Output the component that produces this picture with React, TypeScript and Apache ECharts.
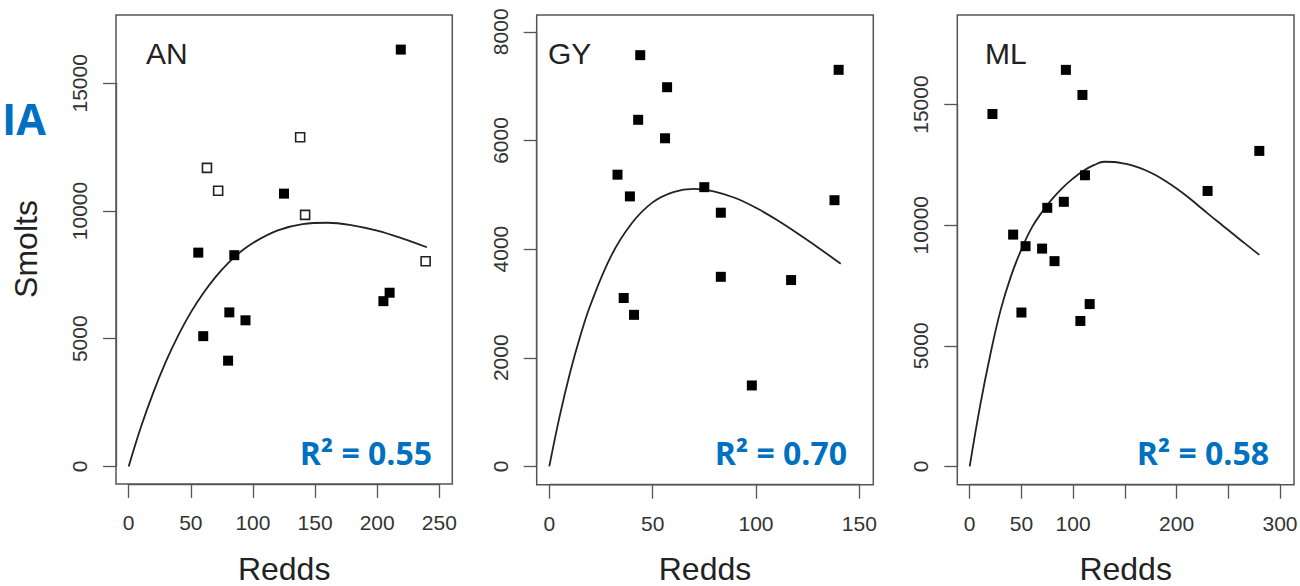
import React, { useEffect, useRef } from 'react';
import * as echarts from 'echarts';

// ---------- data ----------
// AN panel
const AN_FILLED: number[][] = [
  [219, 16320], [125, 10680], [56, 8370], [85, 8270], [210, 6800],
  [205, 6470], [81, 6030], [94, 5720], [60, 5100], [80, 4140],
];
const AN_OPEN: number[][] = [
  [138, 12890], [63, 11690], [72, 10790], [142, 9850], [239, 8030],
];
const AN_CURVE_X = [0, 10, 20, 30, 40, 50, 60, 70, 80, 90, 100, 120, 140, 160, 180, 200, 220, 240];
const AN_CURVE_Y = [0, 1560, 2920, 4110, 5140, 6030, 6780, 7420, 7960, 8400, 8750, 9240, 9490, 9540, 9440, 9230, 8930, 8580];

// GY panel
const GY_POINTS: number[][] = [
  [44, 7570], [140, 7300], [57, 6980], [43, 6380], [56, 6040], [33, 5370],
  [39, 4970], [75, 5140], [83, 4670], [138, 4900], [83, 3490], [117, 3430],
  [36, 3100], [41, 2790], [98, 1490],
];
const GY_CURVE_X = [0, 5, 10, 15, 20, 30, 40, 50, 60, 70, 80, 90, 100, 110, 120, 130, 141];
const GY_CURVE_Y = [0, 920, 1720, 2400, 2980, 3880, 4480, 4860, 5050, 5110, 5060, 4940, 4760, 4540, 4290, 4030, 3730];

// ML panel
const ML_POINTS: number[][] = [
  [93, 16440], [109, 15400], [22, 14610], [280, 13080], [111.5, 12070],
  [230, 11420], [91, 10970], [75, 10720], [42, 9610], [54, 9130],
  [70, 9030], [82, 8510], [116, 6730], [50, 6380], [107, 6030],
];
const ML_CURVE_X = [0, 10, 20, 30, 40, 50, 60, 70, 80, 90, 100, 110, 120, 130, 140, 150, 160, 170, 180, 190, 200, 210, 220, 230, 240, 250, 260, 270, 280];
const ML_CURVE_Y = [0, 2500, 4650, 6500, 7900, 9000, 9900, 10550, 11100, 11560, 11940, 12260, 12490, 12630, 12620, 12550, 12440, 12280, 12070, 11810, 11520, 11200, 10850, 10490, 10140, 9800, 9450, 9110, 8770];

// ticks
const AN_X_TICKS = [0, 50, 100, 150, 200, 250];
const AN_Y_TICKS = [0, 5000, 10000, 15000];
const GY_X_TICKS = [0, 50, 100, 150];
const GY_Y_TICKS = [0, 2000, 4000, 6000, 8000];
const ML_X_TICKS = [0, 50, 100, 150, 200, 250, 300];
const ML_X_LABELS = ['0', '50', '100', '', '200', '', '300'];
const ML_Y_TICKS = [0, 5000, 10000, 15000];

const PANEL_NAMES = ['AN', 'GY', 'ML'];
const R2_LABELS = ['R² = 0.55', 'R² = 0.70', 'R² = 0.58'];

const zip = (xs: number[], ys: number[]) => xs.map((x, i) => [x, ys[i]]);

const FONT = '"Liberation Sans", Arial, Helvetica, sans-serif';
const AXIS_COLOR = '#555';

// layout (pixels)
const GRIDS = [
  { left: 128.7, top: 83.3, width: 310.6, height: 383.1 },
  { left: 549.3, top: 31.8, width: 310, height: 434.6 },
  { left: 969.7, top: 104.6, width: 310.3, height: 361.8 },
];
const BOXES = [
  { x: 116, y: 15, width: 336.3, height: 469 },
  { x: 536.7, y: 15, width: 336.6, height: 469.7 },
  { x: 957.3, y: 15, width: 336.7, height: 469.7 },
];

function makeX(gridIndex: number, ticks: number[], offset: number, labels?: string[]) {
  return {
    type: 'value',
    gridIndex,
    min: ticks[0],
    max: ticks[ticks.length - 1],
    interval: ticks[1] - ticks[0],
    position: 'bottom',
    offset,
    axisLine: { show: true, onZero: false, lineStyle: { color: AXIS_COLOR, width: 1.3 } },
    axisTick: { show: true, length: 14, lineStyle: { color: AXIS_COLOR, width: 1.3 } },
    axisLabel: {
      color: '#333',
      fontSize: 21,
      fontFamily: FONT,
      margin: 28,
      formatter: (v: number) => {
        if (labels) {
          const i = ticks.indexOf(v);
          return i >= 0 ? labels[i] : '';
        }
        return String(v);
      },
    },
    splitLine: { show: false },
  };
}

function makeY(gridIndex: number, ticks: number[], offset: number) {
  return {
    type: 'value',
    gridIndex,
    min: ticks[0],
    max: ticks[ticks.length - 1],
    interval: ticks[1] - ticks[0],
    position: 'left',
    offset,
    axisLine: { show: true, onZero: false, lineStyle: { color: AXIS_COLOR, width: 1.3 } },
    axisTick: { show: true, length: 13, lineStyle: { color: AXIS_COLOR, width: 1.3 } },
    axisLabel: {
      color: '#333',
      fontSize: 21,
      fontFamily: FONT,
      rotate: 90,
      margin: 26,
      formatter: (v: number) => String(v),
    },
    splitLine: { show: false },
  };
}

function curve(idx: number, data: number[][]) {
  return {
    type: 'line',
    xAxisIndex: idx,
    yAxisIndex: idx,
    data,
    smooth: 0.4,
    symbol: 'none',
    clip: false,
    lineStyle: { color: '#222', width: 1.8 },
    z: 1,
  };
}

function filled(idx: number, data: number[][]) {
  return {
    type: 'scatter',
    xAxisIndex: idx,
    yAxisIndex: idx,
    data,
    symbol: 'rect',
    symbolSize: 10,
    clip: false,
    itemStyle: { color: '#000', opacity: 1 },
    z: 3,
  };
}

function txt(x: number, y: number, text: string, font: string, fill: string, align: string, rotation = 0) {
  return {
    type: 'text',
    x,
    y,
    rotation,
    silent: true,
    z: 10,
    style: {
      text,
      font,
      fill,
      align,
      textAlign: align,
      verticalAlign: 'middle',
      textVerticalAlign: 'middle',
    },
  };
}

export default function App() {
  const ref = useRef<HTMLDivElement>(null);

  useEffect(() => {
    document.body.style.margin = '0';
    if (!ref.current) return;
    const chart = echarts.init(ref.current, undefined, { renderer: 'svg' });

    const graphic: any[] = [];
    BOXES.forEach((b) => {
      graphic.push({
        type: 'rect',
        silent: true,
        z: 5,
        shape: { x: b.x, y: b.y, width: b.width, height: b.height },
        style: { fill: 'none', stroke: AXIS_COLOR, lineWidth: 1.5 },
      });
    });
    const nameX = [146, 548, 985];
    PANEL_NAMES.forEach((n, i) => {
      graphic.push(txt(nameX[i], 53, n, `30px ${FONT}`, '#222', 'left'));
    });
    const r2X = [432, 847, 1269];
    R2_LABELS.forEach((t, i) => {
      graphic.push(txt(r2X[i], 452, t, `bold 32px "Open Sans", "Noto Sans", sans-serif`, '#0070C0', 'right'));
    });
    BOXES.forEach((b) => {
      graphic.push(txt(b.x + b.width / 2, 569, 'Redds', `32px ${FONT}`, '#222', 'center'));
    });
    graphic.push(txt(25.5, 249, 'Smolts', `32px ${FONT}`, '#222', 'center', Math.PI / 2));
    graphic.push(txt(2, 118, 'IA', `bold 43px "Open Sans", "Noto Sans", sans-serif`, '#0070C0', 'left'));

    chart.setOption({
      animation: false,
      backgroundColor: '#fff',
      grid: GRIDS.map((g) => ({ ...g, containLabel: false, outerBoundsMode: 'none' })),
      xAxis: [
        makeX(0, AN_X_TICKS, 17.5),
        makeX(1, GY_X_TICKS, 18.3),
        makeX(2, ML_X_TICKS, 18.3, ML_X_LABELS),
      ],
      yAxis: [
        makeY(0, AN_Y_TICKS, 12.7),
        makeY(1, GY_Y_TICKS, 12.6),
        makeY(2, ML_Y_TICKS, 12.4),
      ],
      series: [
        curve(0, zip(AN_CURVE_X, AN_CURVE_Y)),
        filled(0, AN_FILLED),
        {
          type: 'scatter',
          xAxisIndex: 0,
          yAxisIndex: 0,
          data: AN_OPEN,
          symbol: 'rect',
          symbolSize: 9,
          clip: false,
          itemStyle: { color: '#fff', borderColor: '#222', borderWidth: 1.6, opacity: 1 },
          z: 3,
        },
        curve(1, zip(GY_CURVE_X, GY_CURVE_Y)),
        filled(1, GY_POINTS),
        curve(2, zip(ML_CURVE_X, ML_CURVE_Y)),
        filled(2, ML_POINTS),
      ],
      graphic,
    });

    return () => chart.dispose();
  }, []);

  return (
    <div
      ref={ref}
      style={{ position: 'absolute', left: 0, top: 0, width: 1300, height: 586 }}
    />
  );
}
